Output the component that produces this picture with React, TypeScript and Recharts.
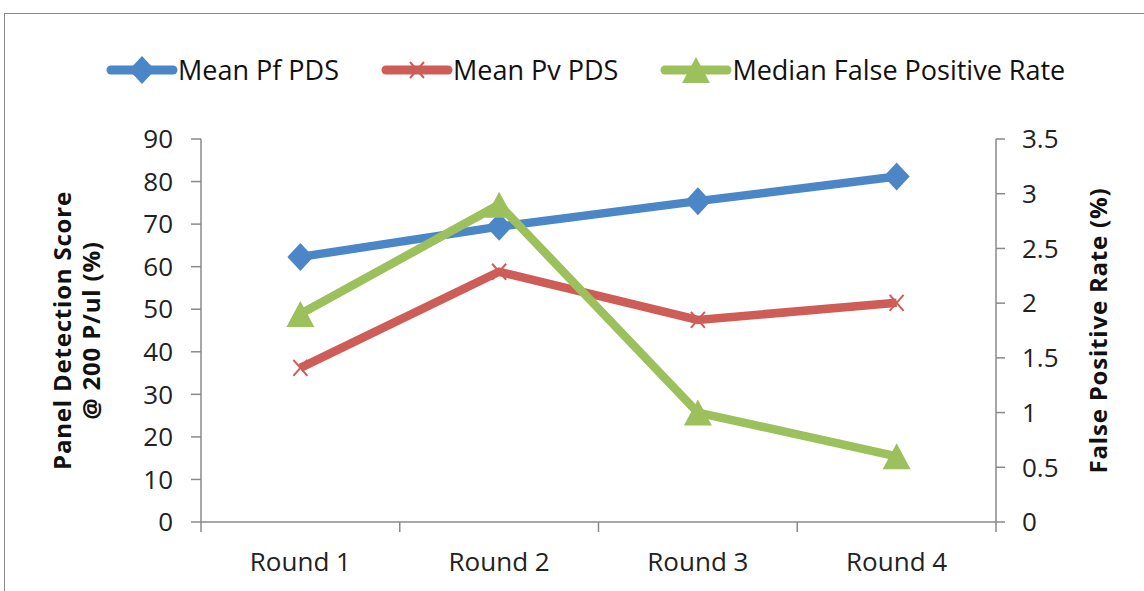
import { LineChart, Line, XAxis, YAxis, Legend } from "recharts";

const rounds = ["Round 1", "Round 2", "Round 3", "Round 4"];
const meanPf = [62.3, 69.4, 75.4, 81.2];
const meanPv = [36.2, 58.8, 47.5, 51.5];
const medianFpr = [1.9, 2.9, 1.0, 0.6];

const leftTicks = [0, 10, 20, 30, 40, 50, 60, 70, 80, 90];
const rightTicks = [0, 0.5, 1, 1.5, 2, 2.5, 3, 3.5];

const data = rounds.map((round, i) => ({
  round,
  pf: meanPf[i],
  pv: meanPv[i],
  fpr: medianFpr[i],
}));

const W = 1144;
const H = 591;
const LEFT_W = 201;
const RIGHT_W = 148;
const PLOT_W = W - LEFT_W - RIGHT_W;
const BAND = PLOT_W / rounds.length;
const FONT = "'Open Sans', sans-serif";
const AXIS = "#8a8a8a";

const BLUE = "#4b86c7";
const RED = "#cd5d56";
const GREEN = "#9bc05c";

const names: Record<string, string> = {
  pf: "Mean Pf PDS",
  pv: "Mean Pv PDS",
  fpr: "Median False Positive Rate",
};

function Marker({ kind, cx, cy }: { kind: string; cx: number; cy: number }) {
  if (kind === "pf") {
    return (
      <polygon
        points={`${cx},${cy - 14} ${cx + 13},${cy} ${cx},${cy + 14} ${cx - 13},${cy}`}
        fill={BLUE}
      />
    );
  }
  if (kind === "pv") {
    return (
      <g stroke={RED} strokeWidth={2}>
        <line x1={cx - 7} y1={cy - 8} x2={cx + 7} y2={cy + 8} />
        <line x1={cx - 7} y1={cy + 8} x2={cx + 7} y2={cy - 8} />
      </g>
    );
  }
  return (
    <polygon
      points={`${cx},${cy - 13} ${cx + 14},${cy + 13} ${cx - 14},${cy + 13}`}
      fill={GREEN}
    />
  );
}

const dotFor = (kind: string) => (props: any) => {
  const { cx, cy, index } = props;
  if (cx == null || cy == null) return <g key={index} />;
  return <Marker key={index} kind={kind} cx={cx} cy={cy} />;
};

function RoundTick(props: any) {
  const { x, y, payload, index } = props;
  const left = x - BAND / 2;
  const right = x + BAND / 2;
  return (
    <g>
      <line x1={left} y1={y - 10} x2={left} y2={y} stroke={AXIS} strokeWidth={1.5} />
      {index === rounds.length - 1 && (
        <line x1={right} y1={y - 10} x2={right} y2={y} stroke={AXIS} strokeWidth={1.5} />
      )}
      <text x={x} y={y + 39} textAnchor="middle" fontSize={26} fontFamily={FONT} fill="#222">
        {payload.value}
      </text>
    </g>
  );
}

function AxisTitle(props: any) {
  const { viewBox, lines, offsets } = props;
  const cy = viewBox.y + viewBox.height / 2;
  return (
    <g>
      {lines.map((t: string, i: number) => {
        const cx = viewBox.x + offsets[i];
        return (
          <text
            key={i}
            x={cx}
            y={cy}
            transform={`rotate(-90 ${cx} ${cy})`}
            textAnchor="middle"
            dominantBaseline="central"
            fontSize={24}
            letterSpacing={0.8}
            fontWeight="bold"
            fontFamily={FONT}
            fill="#111"
          >
            {t}
          </text>
        );
      })}
    </g>
  );
}

function LegendContent(props: any) {
  const { payload } = props;
  return (
    <div style={{ display: "flex", gap: 42, paddingLeft: 106 }}>
      {payload.map((p: any) => (
        <div key={p.dataKey} style={{ display: "flex", alignItems: "center" }}>
          <svg width={72} height={32}>
            <line x1={5} y1={16} x2={67} y2={16} stroke={p.color} strokeWidth={9} strokeLinecap="round" />
            <Marker kind={p.dataKey} cx={36} cy={16} />
          </svg>
          <span style={{ fontFamily: FONT, fontSize: 27, color: "#111", lineHeight: "32px" }}>
            {names[p.dataKey]}
          </span>
        </div>
      ))}
    </div>
  );
}

export default function App() {
  return (
    <div style={{ position: "absolute", left: 0, top: 0, width: W, height: H, background: "#fff" }}>
      <div
        style={{
          position: "absolute",
          left: 4,
          top: 13,
          right: 0,
          bottom: 0,
          borderTop: `1.5px solid ${AXIS}`,
          borderLeft: `1.5px solid ${AXIS}`,
        }}
      />
      <LineChart width={W} height={H} data={data} margin={{ top: 139, right: 0, bottom: 9, left: 0 }}>
        <XAxis
          dataKey="round"
          height={60}
          padding={{ left: BAND / 2, right: BAND / 2 }}
          tickLine={false}
          tickSize={10}
          tickMargin={0}
          axisLine={{ stroke: AXIS, strokeWidth: 1.5 }}
          tick={<RoundTick />}
          interval={0}
        />
        <YAxis
          yAxisId="left"
          width={LEFT_W}
          domain={[0, 90]}
          ticks={leftTicks}
          interval={0}
          tickSize={10}
          tickMargin={18}
          axisLine={{ stroke: AXIS, strokeWidth: 1.5 }}
          tickLine={{ stroke: AXIS, strokeWidth: 1.5 }}
          tick={{ fontSize: 26, fontFamily: FONT, fill: "#222" }}
          label={<AxisTitle lines={["Panel Detection Score", "@ 200 P/ul (%)"]} offsets={[61, 90]} />}
        />
        <YAxis
          yAxisId="right"
          orientation="right"
          width={RIGHT_W}
          domain={[0, 3.5]}
          ticks={rightTicks}
          interval={0}
          tickSize={9}
          tickMargin={17}
          axisLine={{ stroke: AXIS, strokeWidth: 1.5 }}
          tickLine={{ stroke: AXIS, strokeWidth: 1.5 }}
          tick={{ fontSize: 26, fontFamily: FONT, fill: "#222" }}
          label={<AxisTitle lines={["False Positive Rate (%)"]} offsets={[101]} />}
        />
        <Legend
          verticalAlign="middle"
          align="center"
          layout="horizontal"
          wrapperStyle={{ top: 54, left: 0, width: W }}
          content={<LegendContent />}
        />
        <Line
          yAxisId="left"
          dataKey="pf"
          name={names.pf}
          stroke={BLUE}
          strokeWidth={8.5}
          dot={dotFor("pf")}
          activeDot={false}
          isAnimationActive={false}
        />
        <Line
          yAxisId="left"
          dataKey="pv"
          name={names.pv}
          stroke={RED}
          strokeWidth={8.5}
          dot={dotFor("pv")}
          activeDot={false}
          isAnimationActive={false}
        />
        <Line
          yAxisId="right"
          dataKey="fpr"
          name={names.fpr}
          stroke={GREEN}
          strokeWidth={8.5}
          dot={dotFor("fpr")}
          activeDot={false}
          isAnimationActive={false}
        />
      </LineChart>
    </div>
  );
}
